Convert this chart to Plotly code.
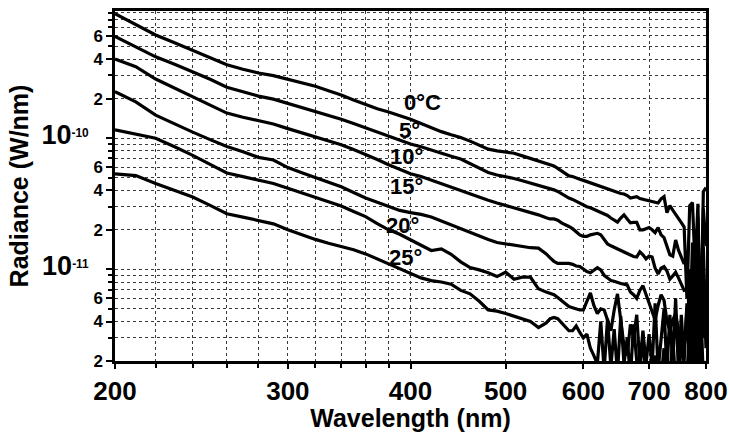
import math
import numpy as np
import plotly.graph_objects as go

# Wavelength grid (nm)
wavelength = [200, 210, 220, 230, 240, 250, 260, 270, 280, 290,
              300, 310, 320, 330, 340, 350, 360, 370, 380, 390,
              400, 410, 420, 430, 440, 450, 460, 470, 480, 490,
              500, 510, 520, 530, 540, 550,
              555, 560, 565, 570, 575, 580, 585, 590, 595, 600,
              605, 610, 615, 620, 625, 630, 635, 640, 645, 650,
              655, 660, 665, 670, 675, 680, 685, 690, 695, 700,
              705, 710, 715, 720, 725, 730, 735, 740, 745, 750,
              755, 760, 765, 770, 775, 780, 785, 790, 795, 800]

# Radiance values in units of 1e-11 W/nm
rad_0C = [88.7, 73.8, 61.1, 53.3, 46.8, 41.2, 36.2, 33.5, 31.3, 29.9,
          28.1, 26.4, 24.8, 22.9, 21.3, 19.5, 17.9, 16.7, 15.8, 14.9,
          13.9, 12.9, 12.0, 11.2, 10.6, 10.1, 9.48, 8.82, 8.24, 7.98,
          7.85, 7.66, 7.32, 7.02, 6.71, 6.43,
          6.28, 6.13, 5.88, 5.62, 5.34, 5.15, 5.10, 4.95, 4.86, 4.76,
          4.66, 4.55, 4.43, 4.32, 4.25, 4.14, 4.06, 3.99, 3.92, 3.85,
          3.78, 3.75, 3.65, 3.49, 3.55, 3.58, 3.46, 3.41, 3.38, 3.32,
          3.27, 3.24, 3.20, 3.44, 3.58, 2.70, 3.05, 2.82, 2.60, 2.42,
          2.27, 2.10, 0.60, 3.05, 3.22, 1.00, 3.15, 0.25, 3.90, 4.20]

rad_5C = [59.6, 49.7, 41.6, 36.5, 31.9, 28.1, 24.4, 22.5, 20.9, 19.8,
          18.4, 17.0, 15.9, 14.8, 13.9, 12.9, 11.95, 11.1, 10.3, 9.6,
          9.0, 8.58, 8.08, 7.66, 7.28, 6.92, 6.41, 5.91, 5.47, 5.23,
          5.09, 4.92, 4.73, 4.55, 4.36, 4.17,
          4.09, 4.03, 3.92, 3.75, 3.59, 3.49, 3.41, 3.29, 3.18, 3.07,
          3.00, 2.94, 2.86, 2.78, 2.71, 2.66, 2.57, 2.46, 2.37, 2.29,
          2.46, 2.60, 2.42, 2.26, 2.28, 2.28, 2.00, 2.00, 2.04, 2.08,
          2.00, 1.90, 2.08, 1.83, 1.74, 1.47, 1.29, 1.26, 1.67, 1.40,
          1.22, 1.10, 1.33, 0.30, 1.60, 0.50, 2.50, 0.28, 2.90, 1.50]

rad_10C = [40.0, 35.0, 28.2, 24.1, 20.6, 17.8, 15.5, 14.4, 13.6, 12.8,
           11.8, 11.0, 10.25, 9.55, 8.9, 8.18, 7.52, 6.86, 6.26, 5.75,
           5.34, 5.09, 4.77, 4.48, 4.21, 3.96, 3.74, 3.54, 3.36, 3.20,
           3.07, 2.96, 2.85, 2.72, 2.60, 2.47,
           2.42, 2.42, 2.37, 2.26, 2.20, 2.12, 2.04, 1.93, 1.83, 1.78,
           1.78, 1.83, 1.86, 1.88, 1.83, 1.67, 1.56, 1.51, 1.47, 1.42,
           1.40, 1.35, 1.31, 1.29, 1.25, 1.24, 1.36, 1.29, 1.20, 1.26,
           1.24, 1.02, 0.92, 1.02, 1.05, 0.97, 0.84, 0.89, 0.95, 0.86,
           0.76, 0.69, 0.70, 1.00, 0.30, 0.90, 0.22, 1.20, 0.30, 0.60]

rad_15C = [22.6, 18.9, 14.97, 12.8, 11.1, 9.73, 8.62, 7.86, 7.13, 6.80,
           5.96, 5.45, 5.02, 4.63, 4.26, 3.85, 3.49, 3.24, 3.02, 2.81,
           2.70, 2.62, 2.50, 2.33, 2.18, 2.04, 1.91, 1.81, 1.69, 1.60,
           1.56, 1.52, 1.49, 1.46, 1.45, 1.31,
           1.22, 1.15, 1.11, 1.11, 1.11, 1.11, 1.09, 1.06, 1.05, 1.01,
           0.96, 0.94, 0.99, 1.03, 0.99, 0.90, 0.86, 0.82, 0.81, 0.79,
           0.78, 0.77, 0.76, 0.67, 0.64, 0.60, 0.69, 0.75, 0.64, 0.56,
           0.47, 0.41, 0.53, 0.64, 0.58, 0.40, 0.34, 0.41, 0.46, 0.34,
           0.26, 0.24, 0.50, 0.18, 0.70, 0.15, 0.90, 0.20, 1.50, 0.30]

rad_20C = [11.56, 10.8, 9.98, 8.58, 7.39, 6.30, 5.42, 5.08, 4.79, 4.51,
           4.15, 3.82, 3.55, 3.27, 3.04, 2.76, 2.52, 2.23, 2.00, 1.85,
           1.67, 1.52, 1.39, 1.43, 1.30, 1.14, 1.03, 0.99, 0.94, 0.88,
           0.95, 0.84, 0.87, 0.87, 0.71, 0.67,
           0.65, 0.64, 0.61, 0.58, 0.55, 0.52, 0.51, 0.50, 0.49, 0.49,
           0.58, 0.66, 0.53, 0.46, 0.50, 0.49, 0.41, 0.34, 0.49, 0.65,
           0.41, 0.26, 0.22, 0.38, 0.30, 0.45, 0.19, 0.34, 0.19, 0.32,
           0.18, 0.55, 0.17, 0.28, 0.50, 0.17, 0.45, 0.19, 0.60, 0.16,
           0.45, 0.20, 0.55, 0.17, 0.60, 0.15, 0.80, 0.18, 0.90, 0.25]

rad_25C = [5.34, 5.18, 4.51, 3.99, 3.55, 3.07, 2.65, 2.50, 2.36, 2.22,
           2.00, 1.83, 1.69, 1.58, 1.49, 1.41, 1.31, 1.20, 1.10, 1.02,
           0.93, 0.86, 0.82, 0.80, 0.77, 0.69, 0.65, 0.57, 0.49, 0.48,
           0.46, 0.44, 0.42, 0.40, 0.36, 0.39,
           0.42, 0.43, 0.42, 0.39, 0.36, 0.34, 0.34, 0.37, 0.33, 0.30,
           0.32, 0.25, 0.22, 0.19, 0.40, 0.17, 0.42, 0.18, 0.35, 0.16,
           0.44, 0.19, 0.30, 0.15, 0.38, 0.20, 0.17, 0.30, 0.15, 0.16,
           0.15, 0.22, 0.14, 0.15, 0.25, 0.14, 0.15, 0.30, 0.14, 0.15,
           0.35, 0.14, 0.15, 0.40, 0.14, 0.50, 0.15, 0.60, 0.14, 0.20]

UNIT = 1e-11

series_names = ["0°C", "5°", "10°", "15°", "20°", "25°"]
series_values = [rad_0C, rad_5C, rad_10C, rad_15C, rad_20C, rad_25C]

# In-plot label anchors (wavelength nm, radiance W/nm)
label_wl = [411, 399, 396, 396, 393, 395]
label_rad = [1.86e-10, 1.137e-10, 7.2e-11, 4.25e-11, 2.14e-11, 1.24e-11]

x_tickvals = [200, 300, 400, 500, 600, 700, 800]
x_ticktext = ["200", "300", "400", "500", "600", "700", "800"]
x_minor = [220, 240, 260, 280, 320, 340, 360, 380]


def decade(exp):
    return ('<span style="font-size:27px">10</span><sup>' + exp +
            '</sup>&nbsp;&nbsp;&nbsp;')


y_tickvals = [2e-12, 4e-12, 6e-12, 1e-11, 2e-11, 4e-11, 6e-11,
              1e-10, 2e-10, 4e-10, 6e-10]
y_ticktext = ["2", "4", "6", decade("-11"), "2", "4", "6",
              decade("-10"), "2", "4", "6"]
y_minor = [3e-12, 5e-12, 7e-12, 8e-12, 9e-12,
           3e-11, 5e-11, 7e-11, 8e-11, 9e-11,
           3e-10, 5e-10, 7e-10, 8e-10, 9e-10]

FONT = "Liberation Sans"
GRID = "#3a3a3a"

fig = go.Figure()
for name, vals in zip(series_names, series_values):
    fig.add_trace(go.Scatter(
        x=wavelength, y=np.array(vals) * UNIT, mode="lines", name=name,
        line=dict(color="black", width=3.2), showlegend=False))

for txt, wl, rv in zip(series_names, label_wl, label_rad):
    fig.add_annotation(x=math.log10(wl), y=math.log10(rv), xref="x", yref="y",
                       text=txt, showarrow=False, xanchor="center",
                       yanchor="middle",
                       font=dict(family=FONT, size=22, color="black",
                                 weight="bold"))

fig.update_xaxes(
    type="log", range=[math.log10(200), math.log10(800)],
    automargin=False,
    tickmode="array", tickvals=x_tickvals, ticktext=x_ticktext,
    ticks="outside", ticklen=5, tickwidth=2, tickcolor="black",
    showline=True, linewidth=2.5, linecolor="black", mirror=True,
    showgrid=True, gridcolor=GRID, gridwidth=1, griddash="dot",
    zeroline=False,
    tickfont=dict(family=FONT, size=26, color="black", weight="bold"),
    minor=dict(tickmode="array", tickvals=x_minor, ticks="outside",
               ticklen=4, tickwidth=1.5, tickcolor="black",
               showgrid=True, gridcolor=GRID, gridwidth=1, griddash="dot"),
    title=dict(text="Wavelength (nm)", standoff=4,
               font=dict(family=FONT, size=25, color="black",
                         weight="bold")),
)

fig.update_yaxes(
    type="log", range=[math.log10(2e-12), math.log10(9.3e-10)],
    automargin=False,
    tickmode="array", tickvals=y_tickvals, ticktext=y_ticktext,
    ticks="outside", ticklen=6, tickwidth=2, tickcolor="black",
    showline=True, linewidth=2.5, linecolor="black", mirror=True,
    showgrid=True, gridcolor=GRID, gridwidth=1, griddash="dot",
    zeroline=False,
    tickfont=dict(family=FONT, size=17, color="black", weight="bold"),
    minor=dict(tickmode="array", tickvals=y_minor, ticks="outside",
               ticklen=4, tickwidth=1.5, tickcolor="black",
               showgrid=True, gridcolor=GRID, gridwidth=1, griddash="dot"),
    title=dict(text="Radiance (W/nm)", standoff=6,
               font=dict(family=FONT, size=25, color="black",
                         weight="bold")),
)

fig.update_layout(
    width=730, height=432,
    margin=dict(l=115, r=24, t=11, b=71, autoexpand=False),
    paper_bgcolor="white", plot_bgcolor="white",
    showlegend=False,
)

fig.write_html("out.html")
